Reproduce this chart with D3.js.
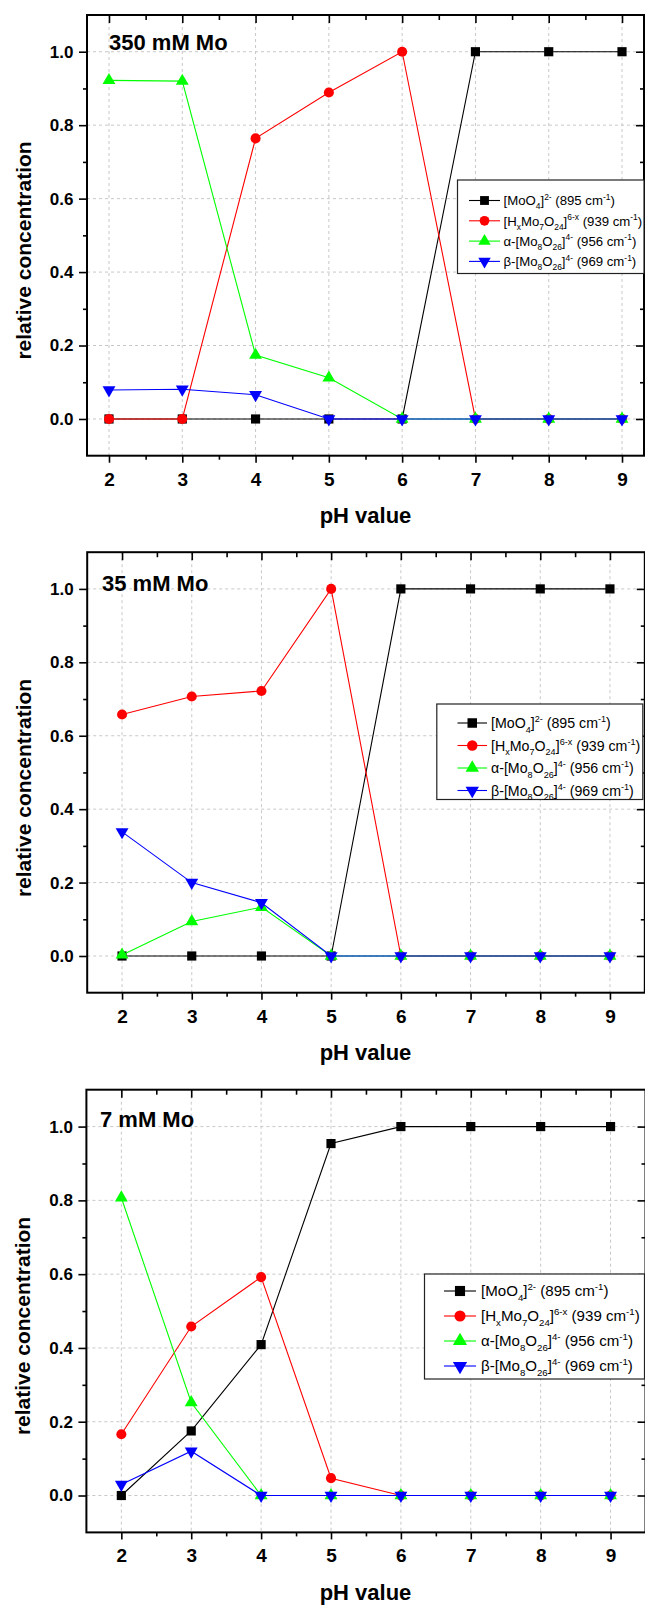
<!DOCTYPE html>
<html><head><meta charset="utf-8">
<script src="https://cdn.jsdelivr.net/npm/d3@7"></script>
<style>
body{margin:0;background:#fff}
svg{display:block}
text{font-family:"Liberation Sans",Arial,sans-serif}
</style>
</head><body>
<svg id="chart" width="645" height="1605"></svg>
<script>
// ---------- data ----------
const pH = [2, 3, 4, 5, 6, 7, 8, 9];
const xTickValues = [2, 3, 4, 5, 6, 7, 8, 9];
const xMinorTicks = [2.5, 3.5, 4.5, 5.5, 6.5, 7.5, 8.5];
const yTickValues = [0, 0.2, 0.4, 0.6, 0.8, 1.0];
const yMinorTicks = [0.1, 0.3, 0.5, 0.7, 0.9];
const panelTitles = ["350 mM Mo", "35 mM Mo", "7 mM Mo"];
const xAxisTitle = "pH value";
const yAxisTitle = "relative concentration";
const seriesColors = ["#000000", "#ff0000", "#00ff00", "#0000ff"];

const molybdate350 = [0, 0, 0, 0, 0, 1, 1, 1];
const hepta350     = [0, 0, 0.764, 0.889, 1.0, 0, 0, 0];
const alpha350     = [0.922, 0.920, 0.174, 0.112, 0, 0, 0, 0];
const beta350      = [0.079, 0.081, 0.066, 0, 0, 0, 0, 0];

const molybdate35 = [0, 0, 0, 0, 1, 1, 1, 1];
const hepta35     = [0.658, 0.707, 0.722, 1.0, 0, 0, 0, 0];
const alpha35     = [0.003, 0.094, 0.133, 0, 0, 0, 0, 0];
const beta35      = [0.338, 0.200, 0.145, 0, 0, 0, 0, 0];

const molybdate7 = [0, 0.175, 0.409, 0.954, 1, 1, 1, 1];
const hepta7     = [0.166, 0.458, 0.592, 0.047, 0, 0, 0, 0];
const alpha7     = [0.807, 0.252, 0, 0, 0, 0, 0, 0];
const beta7      = [0.030, 0.120, 0, 0, 0, 0, 0, 0];

const legendLabels = [
  [["[MoO"], ["4", "sub"], ["]"], ["2-", "sup"], [" (895 cm"], ["-1", "sup"], [")"]],
  [["[H"], ["x", "sub"], ["Mo"], ["7", "sub"], ["O"], ["24", "sub"], ["]"], ["6-x", "sup"], [" (939 cm"], ["-1", "sup"], [")"]],
  [["\u03b1-[Mo"], ["8", "sub"], ["O"], ["26", "sub"], ["]"], ["4-", "sup"], [" (956 cm"], ["-1", "sup"], [")"]],
  [["\u03b2-[Mo"], ["8", "sub"], ["O"], ["26", "sub"], ["]"], ["4-", "sup"], [" (969 cm"], ["-1", "sup"], [")"]]
];

// ---------- layout ----------
const panels = [
  { series: [molybdate350, hepta350, alpha350, beta350], title: panelTitles[0],
    x0: 87, x1: 644, xDom: [1.7, 9.3], yTop: 15, yBot: 455.7,
    titleX: 109, titleY: 49.5, xLabY: 523, yLabX: 31, yLabY: 250.5,
    leg: { x: 457.5, y: 180, w: 186.5, h: 93.5, row0: 200.5, dy: 20.3, lx0: 469, lx1: 500, tx: 503.5, fs: 13.2 } },
  { series: [molybdate35, hepta35, alpha35, beta35], title: panelTitles[1],
    x0: 87.2, x1: 644.8, xDom: [1.5, 9.5], yTop: 552.2, yBot: 992.7,
    titleX: 102, titleY: 591, xLabY: 1060, yLabX: 31, yLabY: 788,
    leg: { x: 436.8, y: 704, w: 206, h: 95.5, row0: 723, dy: 22.5, lx0: 457.5, lx1: 487, tx: 491, fs: 14.2 } },
  { series: [molybdate7, hepta7, alpha7, beta7], title: panelTitles[2],
    x0: 86.4, x1: 645.5, xDom: [1.5, 9.5], yTop: 1089.7, yBot: 1532.4,
    titleX: 100, titleY: 1127, xLabY: 1600, yLabX: 30, yLabY: 1326,
    leg: { x: 424.5, y: 1274, w: 220, h: 105, row0: 1291, dy: 25, lx0: 444, lx1: 476, tx: 481, fs: 15.1 } }
];

const svg = d3.select("#chart");

function marker(sel, idx, cx, cy, scale) {
  const col = seriesColors[idx];
  const s = scale || 1;
  let path;
  if (idx === 0) path = d3.symbol().type(d3.symbolSquare).size(84 * s * s)();
  else if (idx === 1) path = d3.symbol().type(d3.symbolCircle).size(80 * s * s)();
  else path = d3.symbol().type(d3.symbolTriangle).size(72 * s * s)();
  const rot = idx === 3 ? " rotate(180)" : "";
  sel.append("path").attr("d", path)
    .attr("transform", `translate(${cx},${cy})${rot}`)
    .attr("fill", col).attr("stroke", "none");
}

function addRichText(g, parts, x, y, fs) {
  const t = g.append("text").attr("x", x).attr("y", y)
    .attr("font-size", fs).attr("fill", "#000");
  let cur = 0;
  parts.forEach(([str, kind]) => {
    let target = 0, size = fs;
    if (kind === "sub") { target = fs * 0.32; size = fs * 0.64; }
    if (kind === "sup") { target = -fs * 0.42; size = fs * 0.64; }
    t.append("tspan").attr("dy", target - cur).attr("font-size", size).text(str);
    cur = target;
  });
}

panels.forEach(p => {
  const x = d3.scaleLinear().domain(p.xDom).range([p.x0, p.x1]);
  const y = d3.scaleLinear().domain([-0.1, 1.1]).range([p.yBot, p.yTop]);
  const g = svg.append("g");

  // gridlines
  g.append("g").selectAll("line").data(xTickValues).join("line")
    .attr("x1", d => x(d)).attr("x2", d => x(d)).attr("y1", p.yTop).attr("y2", p.yBot)
    .attr("stroke", "#c8c8c8").attr("stroke-width", 1).attr("stroke-dasharray", "3,3");
  g.append("g").selectAll("line").data(yTickValues).join("line")
    .attr("x1", p.x0).attr("x2", p.x1).attr("y1", d => y(d)).attr("y2", d => y(d))
    .attr("stroke", "#c8c8c8").attr("stroke-width", 1).attr("stroke-dasharray", "3,3");

  // axes (ticks)
  const fmt = d3.format(".1f");
  const styleAxis = (a) => { a.select(".domain").remove(); a.selectAll("line").attr("stroke", "#000").attr("stroke-width", 1.6); };

  const bottom = g.append("g").attr("transform", `translate(0,${p.yBot})`)
    .call(d3.axisBottom(x).tickValues(xTickValues).tickFormat(d3.format("d")).tickSizeInner(7).tickSizeOuter(0).tickPadding(9.5));
  styleAxis(bottom);
  bottom.selectAll("text").attr("font-size", 19).attr("font-weight", "bold").attr("fill", "#000")
    .attr("font-family", '"Liberation Sans",Arial,sans-serif');
  const bottomMinor = g.append("g").attr("transform", `translate(0,${p.yBot})`)
    .call(d3.axisBottom(x).tickValues(xMinorTicks).tickFormat("").tickSizeInner(4).tickSizeOuter(0));
  styleAxis(bottomMinor);

  const top = g.append("g").attr("transform", `translate(0,${p.yTop})`)
    .call(d3.axisTop(x).tickValues(xTickValues).tickFormat("").tickSizeInner(-8).tickSizeOuter(0));
  styleAxis(top);
  const topMinor = g.append("g").attr("transform", `translate(0,${p.yTop})`)
    .call(d3.axisTop(x).tickValues(xMinorTicks).tickFormat("").tickSizeInner(-5).tickSizeOuter(0));
  styleAxis(topMinor);

  const left = g.append("g").attr("transform", `translate(${p.x0},0)`)
    .call(d3.axisLeft(y).tickValues(yTickValues).tickFormat(fmt).tickSizeInner(8).tickSizeOuter(0).tickPadding(5.5));
  styleAxis(left);
  left.selectAll("text").attr("font-size", 17).attr("font-weight", "bold").attr("fill", "#000")
    .attr("font-family", '"Liberation Sans",Arial,sans-serif');
  const leftMinor = g.append("g").attr("transform", `translate(${p.x0},0)`)
    .call(d3.axisLeft(y).tickValues(yMinorTicks).tickFormat("").tickSizeInner(4).tickSizeOuter(0));
  styleAxis(leftMinor);

  const right = g.append("g").attr("transform", `translate(${p.x1},0)`)
    .call(d3.axisRight(y).tickValues(yTickValues).tickFormat("").tickSizeInner(-8).tickSizeOuter(0));
  styleAxis(right);
  const rightMinor = g.append("g").attr("transform", `translate(${p.x1},0)`)
    .call(d3.axisRight(y).tickValues(yMinorTicks).tickFormat("").tickSizeInner(-4).tickSizeOuter(0));
  styleAxis(rightMinor);

  // frame
  g.append("rect").attr("x", p.x0).attr("y", p.yTop).attr("width", p.x1 - p.x0).attr("height", p.yBot - p.yTop)
    .attr("fill", "none").attr("stroke", "#000").attr("stroke-width", 2);

  // series
  const line = d3.line().x((d, i) => x(pH[i])).y(d => y(d));
  p.series.forEach((vals, si) => {
    const sg = g.append("g");
    sg.append("path").datum(vals).attr("d", line)
      .attr("fill", "none").attr("stroke", seriesColors[si]).attr("stroke-width", 1.1);
    vals.forEach((v, i) => marker(sg, si, x(pH[i]), y(v)));
  });

  // title
  g.append("text").attr("x", p.titleX).attr("y", p.titleY)
    .attr("font-size", 22).attr("font-weight", "bold").text(p.title);

  // axis titles
  g.append("text").attr("x", 365.5).attr("y", p.xLabY)
    .attr("text-anchor", "middle").attr("font-size", 22).attr("font-weight", "bold").text(xAxisTitle);
  g.append("text").attr("transform", `translate(${p.yLabX},${p.yLabY}) rotate(-90)`)
    .attr("text-anchor", "middle").attr("font-size", 21).attr("font-weight", "bold").text(yAxisTitle);

  // legend
  const L = p.leg;
  const lg = g.append("g");
  lg.append("rect").attr("x", L.x).attr("y", L.y).attr("width", L.w).attr("height", L.h)
    .attr("fill", "#fff").attr("stroke", "#222").attr("stroke-width", 1.2);
  legendLabels.forEach((parts, si) => {
    const ry = L.row0 + si * L.dy;
    lg.append("line").attr("x1", L.lx0).attr("x2", L.lx1).attr("y1", ry).attr("y2", ry)
      .attr("stroke", seriesColors[si]).attr("stroke-width", 1.1);
    marker(lg, si, (L.lx0 + L.lx1) / 2, ry, L.fs / 13 * 0.95);
    addRichText(lg, parts, L.tx, ry + L.fs * 0.36, L.fs);
  });
});
</script>
</body></html>
